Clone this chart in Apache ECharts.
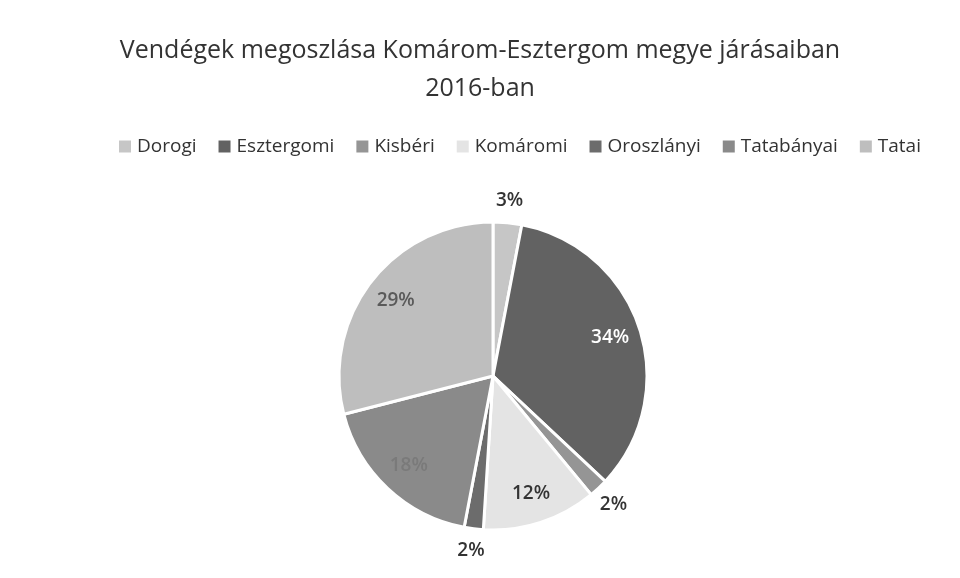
<!DOCTYPE html>
<html lang="hu">
<head>
    <meta charset="UTF-8">
    <title>Vendégek megoszlása</title>
    <script src="https://cdn.jsdelivr.net/npm/echarts@6/dist/echarts.min.js"></script>
    <style>
        html, body { margin: 0; padding: 0; background: #fff; }
        #chart { width: 960px; height: 578px; }
    </style>
</head>
<body>
    <div id="chart"></div>
    <script>
        // járások és százalékos megoszlás
        var categories = ['Dorogi', 'Esztergomi', 'Kisbéri', 'Komáromi', 'Oroszlányi', 'Tatabányai', 'Tatai'];
        var values = [3, 34, 2, 12, 2, 18, 29];
        var colors = ['#c6c6c6', '#626262', '#959595', '#e4e4e4', '#6c6c6c', '#8a8a8a', '#bebebe'];
        var labelColors = ['#333333', '#ffffff', '#333333', '#333333', '#333333', '#7a7a7a', '#5a5a5a'];
        // kis szeletek felirata kívül
        var outsideLabel = [true, false, true, false, true, false, false];

        var center = [493, 376];
        var R = 154;

        var font = '"Open Sans", "Noto Sans", sans-serif';

        function build(kind) {
            return categories.map(function (name, i) {
                var show = kind === 'main' ? false : (kind === 'out' ? outsideLabel[i] : !outsideLabel[i]);
                return {
                    name: name,
                    value: values[i],
                    itemStyle: kind === 'main' ? { color: colors[i] } : { color: 'rgba(0,0,0,0)' },
                    label: { show: show, color: labelColors[i] }
                };
            });
        }

        var labelStyle = {
            position: 'inside',
            formatter: '{d}%',
            fontFamily: font,
            fontSize: 19,
            fontWeight: 600
        };

        var chart = echarts.init(document.getElementById('chart'), null, { renderer: 'canvas' });
        chart.setOption({
            backgroundColor: '#fff',
            animation: false,
            color: colors,
            title: {
                text: 'Vendégek megoszlása Komárom-Esztergom megye járásaiban\n2016-ban',
                left: 'center',
                top: 27,
                textStyle: {
                    fontFamily: font,
                    fontSize: 25,
                    fontWeight: 'normal',
                    color: '#333333',
                    lineHeight: 38
                }
            },
            legend: {
                top: 132,
                left: 112,
                icon: 'rect',
                itemWidth: 14,
                itemHeight: 14,
                itemGap: 20,
                textStyle: { fontFamily: font, fontSize: 19, color: '#333333' },
                data: categories
            },
            series: [
                {
                    name: 'main',
                    type: 'pie',
                    center: center,
                    radius: [0, R],
                    startAngle: 90,
                    clockwise: true,
                    percentPrecision: 0,
                    label: { show: false },
                    labelLine: { show: false },
                    itemStyle: { borderColor: '#fff', borderWidth: 3 },
                    emphasis: { disabled: true },
                    data: build('main')
                },
                {
                    name: 'inLabels',
                    type: 'pie',
                    center: center,
                    radius: [R * 0.56, R],
                    startAngle: 90,
                    clockwise: true,
                    percentPrecision: 0,
                    silent: true,
                    legendHoverLink: false,
                    label: labelStyle,
                    labelLine: { show: false },
                    emphasis: { disabled: true },
                    data: build('in')
                },
                {
                    name: 'outLabels',
                    type: 'pie',
                    center: center,
                    radius: [R + 8, R + 30],
                    startAngle: 90,
                    clockwise: true,
                    percentPrecision: 0,
                    silent: true,
                    legendHoverLink: false,
                    label: labelStyle,
                    labelLine: { show: false },
                    emphasis: { disabled: true },
                    data: build('out')
                }
            ]
        });
    </script>
</body>
</html>
